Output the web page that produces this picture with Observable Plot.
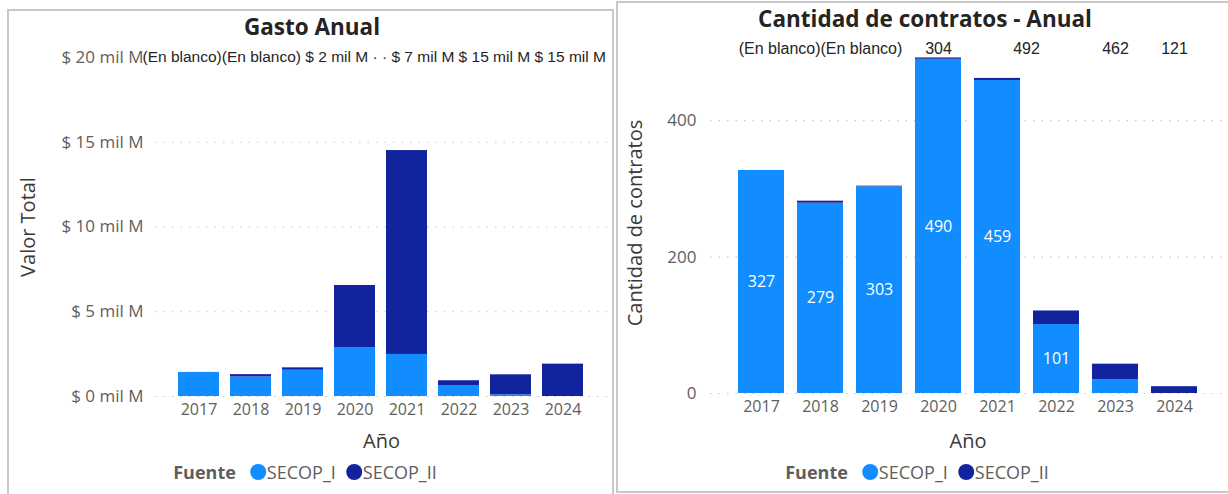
<!DOCTYPE html>
<html>
<head>
<meta charset="utf-8">
<script src="https://cdn.jsdelivr.net/npm/d3@7"></script>
<script src="https://cdn.jsdelivr.net/npm/@observablehq/plot@0.6"></script>
<style>
  body { margin:0; background:#fff; width:1228px; height:494px; overflow:hidden; position:relative; font-family:"Open Sans", "Segoe UI", sans-serif; }
  .panel { position:absolute; border:2px solid #c8c8c8; box-sizing:border-box; background:#fff; }
  #p1 { left:7px; top:9px; width:607px; height:530px; }
  #p2 { left:616px; top:1px; width:625px; height:492px; }
  .title { position:absolute; font-weight:700; font-size:22.5px; line-height:26px; color:#252423; white-space:nowrap; transform:translateX(-50%); }
  .chart { position:absolute; }
  .legend { position:absolute; transform:translateX(-50%); display:flex; align-items:center; font-size:18px; line-height:24px; color:#605E5C; white-space:nowrap; }
  .legend b { margin-right:14px; }
  .legend .sw { width:16px; height:16px; border-radius:50%; display:inline-block; margin-right:1px; }
  .legend .it { display:flex; align-items:center; margin-right:10px; }
  g[aria-label="y-axis label"], g[aria-label="x-axis label"] { font-size:20px; fill:#3b3a39; }
  g[aria-label="y-axis tick label"] { fill:#605E5C; font-size:17px; }
  g[aria-label="x-axis tick label"] { fill:#605E5C; }
</style>
</head>
<body>
<div class="panel" id="p1"></div>
<div class="panel" id="p2"></div>
<div class="title" style="left:312px;top:14px">Gasto Anual</div>
<div class="title" style="left:925px;top:6px">Cantidad de contratos - Anual</div>
<div class="chart" id="c1" style="left:10px;top:40px"></div>
<div class="chart" id="c2" style="left:619px;top:36px"></div>
<div class="legend" id="l1" style="left:310px;top:460px"></div>
<div class="legend" id="l2" style="left:922px;top:460px"></div>
<script>
// ---- data ----
const years = ["2017", "2018", "2019", "2020", "2021", "2022", "2023", "2024"];
const fuentes = ["SECOP_I", "SECOP_II"];
const colores = ["#118DFF", "#12239E"];

// Gasto Anual (mil M)
const gastoSecopI  = [1.42, 1.15, 1.55, 2.87, 2.48, 0.65, 0.10, 0.00];
const gastoSecopII = [0.00, 0.14, 0.14, 3.68, 12.03, 0.28, 1.18, 1.91];
const gastoTicks = [0, 5, 10, 15, 20];
const gastoTopLabels = ["(En blanco)(En blanco)", "$ 2 mil M", "·", "·", "$ 7 mil M", "$ 15 mil M", "$ 15 mil M"];

// Cantidad de contratos
const contSecopI  = [327, 279, 303, 490, 459, 101, 20, 0];
const contSecopII = [0, 3, 1, 2, 3, 20, 23, 10];
const contTicks = [0, 200, 400];
const contTopYears = ["2018", "2020", "2021", "2023", "2024"];
const contTopLabels = ["(En blanco)(En blanco)", "304", "492", "462", "121"];

// ---- tables ----
const gastoTable = years.flatMap((y, i) => [
  {year: y, fuente: fuentes[0], v: gastoSecopI[i]},
  {year: y, fuente: fuentes[1], v: gastoSecopII[i]}
]);
const contTable = years.flatMap((y, i) => [
  {year: y, fuente: fuentes[0], v: contSecopI[i]},
  {year: y, fuente: fuentes[1], v: contSecopII[i]}
]);
const contInner = years.map((y, i) => ({year: y, v: contSecopI[i]})).filter(d => d.v >= 50);
const contTop = contTopYears.map((y, i) => ({year: y, label: contTopLabels[i]}));

const font = '"Open Sans", "Segoe UI", sans-serif';
const labelFont = '"Liberation Sans", Arial, sans-serif';
const grid = {stroke: "#c8c8c8", strokeOpacity: 1, strokeDasharray: "1.5,7", strokeWidth: 1.2};

// ---- chart 1 ----
const c1 = Plot.plot({
  width: 600, height: 416,
  marginTop: 17, marginLeft: 145, marginRight: 3, marginBottom: 60,
  style: {fontFamily: font, fontSize: "16px", background: "transparent", overflow: "visible"},
  x: {domain: years, paddingInner: 0.21, paddingOuter: 0.43},
  y: {domain: [0, gastoTicks[gastoTicks.length - 1]]},
  color: {domain: fuentes, range: colores},
  marks: [
    Plot.gridY(gastoTicks.slice(0, -1), grid),
    Plot.barY(gastoTable, {x: "year", y: "v", fill: "fuente"}),
    Plot.axisY(gastoTicks, {tickSize: 0, tickPadding: 12, tickFormat: d => `$ ${d} mil M`,
      label: "Valor Total", labelAnchor: "center", labelOffset: 135, labelArrow: "none"}),
    Plot.axisX({tickSize: 0, tickPadding: 7, label: "Año", labelAnchor: "center", labelOffset: 51, labelArrow: "none"}),
    Plot.text([{label: gastoTopLabels.join(" "), y: gastoTicks[gastoTicks.length - 1]}], {
      y: "y", text: "label", frameAnchor: "left", textAnchor: "start", dx: -13,
      fontFamily: labelFont, fontSize: 15.5, fill: "#252423"})
  ]
});
document.getElementById("c1").append(c1);

// ---- chart 2 ----
const c2 = Plot.plot({
  width: 607, height: 417,
  marginTop: 16, marginLeft: 91, marginRight: 1, marginBottom: 60,
  style: {fontFamily: font, fontSize: "16px", background: "transparent", overflow: "visible"},
  x: {domain: years, paddingInner: 0.22, paddingOuter: 0.42},
  y: {domain: [0, 500]},
  color: {domain: fuentes, range: colores},
  marks: [
    Plot.gridY(contTicks, grid),
    Plot.barY(contTable, {x: "year", y: "v", fill: "fuente"}),
    Plot.text(contInner, {x: "year", y: d => d.v / 2, text: d => String(d.v), fill: "white", fontSize: 16, fontFamily: font}),
    Plot.axisY(contTicks, {tickSize: 0, tickPadding: 14,
      label: "Cantidad de contratos", labelAnchor: "center", labelOffset: 83, labelArrow: "none"}),
    Plot.axisX({tickSize: 0, tickPadding: 7, label: "Año", labelAnchor: "center", labelOffset: 54, labelArrow: "none"}),
    Plot.text(contTop.filter(d => d.label !== "492"), {x: "year", y: () => 500, text: "label", dy: -4,
      fontFamily: labelFont, fontSize: 16, fill: "#252423"}),
    Plot.text(contTop.filter(d => d.label === "492"), {x: "year", y: () => 500, text: "label", dy: -4, dx: 29,
      fontFamily: labelFont, fontSize: 16, fill: "#252423"})
  ]
});
document.getElementById("c2").append(c2);

// ---- legends ----
function legend(id) {
  const el = document.getElementById(id);
  el.innerHTML = `<b>Fuente</b>` + fuentes.map((f, i) =>
    `<span class="it"><span class="sw" style="background:${colores[i]}"></span>${f}</span>`).join("");
}
legend("l1");
legend("l2");
</script>
</body>
</html>
